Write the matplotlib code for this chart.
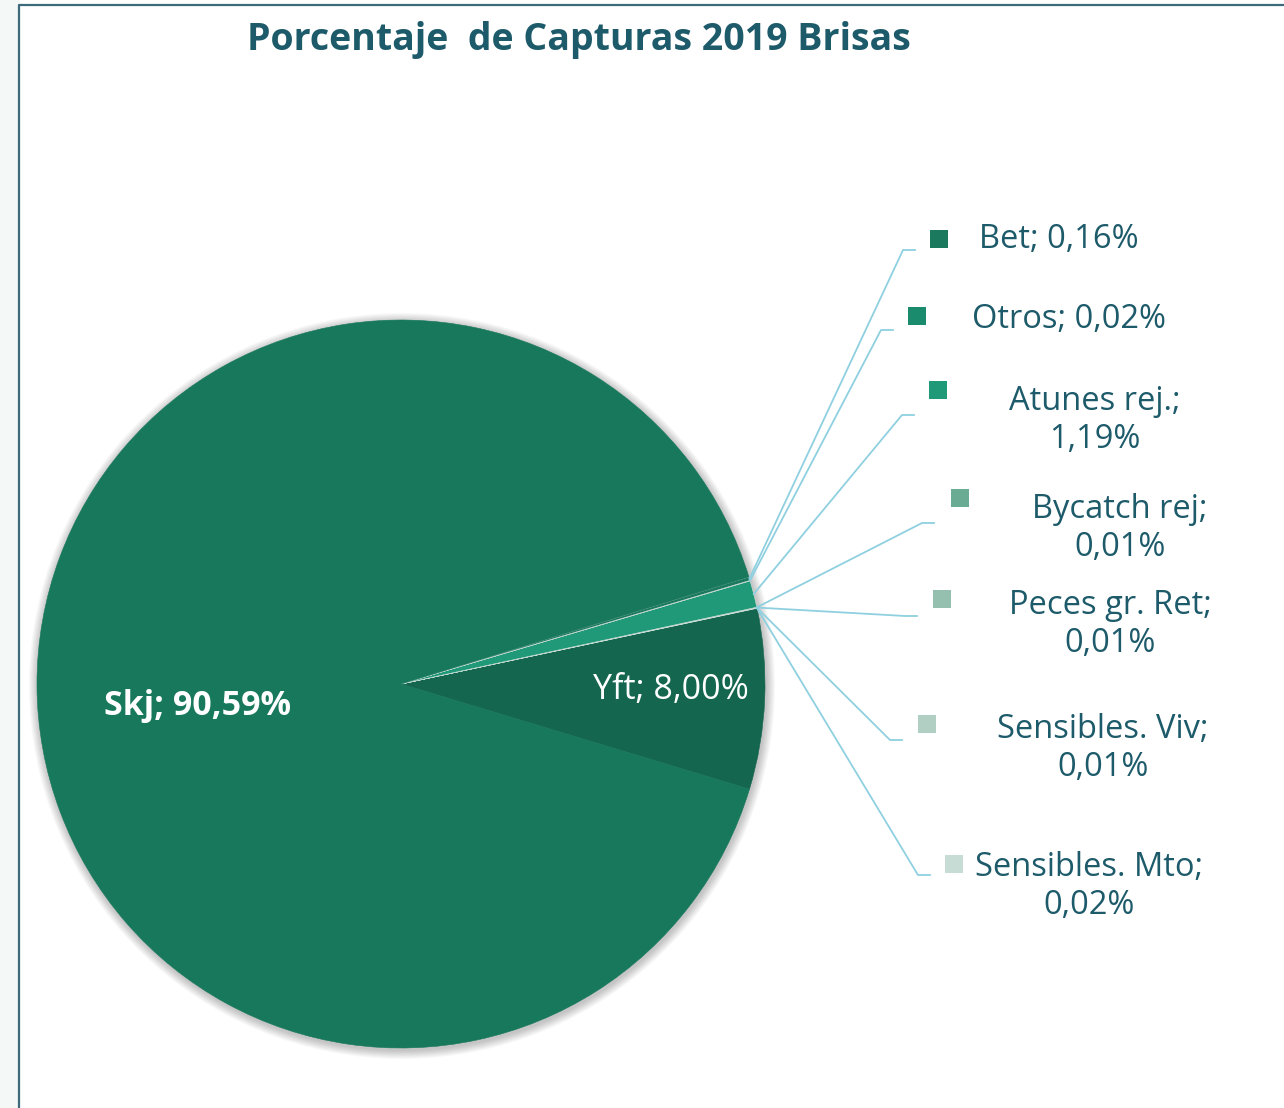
import numpy as np
import matplotlib
matplotlib.use('Agg')
from matplotlib import pyplot as plt
from matplotlib.patches import Circle, Rectangle

# Slice data (counterclockwise from the lower edge of Yft)
names = ['Yft', 'Sensibles. Mto', 'Sensibles. Viv', 'Peces gr. Ret',
         'Bycatch rej', 'Atunes rej.', 'Otros', 'Bet', 'Skj']
values = [8.00, 0.02, 0.01, 0.01, 0.01, 1.19, 0.02, 0.16, 90.59]
colors = ['#15664f', '#c7dcd4', '#b2cfc4', '#95bfaf', '#6aab94',
          '#1f9977', '#1a8b6c', '#1b7a5e', '#17785c']

W, H = 1284, 1108
TXT = '#1d5a6a'


def py(y):
    # pixel row (from top) -> data y
    return H - y


def pct(v):
    return ('%.2f' % v).replace('.', ',') + '%'


plt.rcParams['font.family'] = ['Open Sans', 'DejaVu Sans']

fig = plt.figure(figsize=(W / 100, H / 100), dpi=100)
ax = fig.add_axes([0, 0, 1, 1])

# frame of the slide / chart area
ax.add_patch(Rectangle((0, 0), 19, H, color='#f4f8f7', zorder=0))
ax.plot([19, 19, W], [0, py(5), py(5)], color='#3d6b7b', lw=1.6, zorder=1)

cx, cy, r = 401, py(684), 364

# soft shadow under the pie
for i in range(10):
    ax.add_patch(Circle((cx + 1, cy - 2), r + 1 + i * 0.9, color='black',
                        alpha=0.022, lw=0, zorder=1))

wedges, _ = ax.pie(values, colors=colors, startangle=-16.8, counterclock=True,
                   center=(cx, cy), radius=r, frame=True,
                   wedgeprops=dict(edgecolor='#cfded8', linewidth=0.4, zorder=2))
# big slices get no visible border
wedges[0].set_edgecolor(colors[0])
wedges[-1].set_edgecolor(colors[-1])

# labels inside the big slices
ax.text(198, py(706), 'Skj; ' + pct(values[8]), color='white', fontsize=24.5,
        fontweight='bold', ha='center', va='center', zorder=5)
ax.text(671, py(690), 'Yft; ' + pct(values[0]), color='white', fontsize=24.5,
        ha='center', va='center', zorder=5)

# outside labels: (text centre x, y), legend square (x, y), leader bend (x, y)
layout = {
    'Bet':            ((1059, 240), (939, 239), (903, 250)),
    'Otros':          ((1069, 319), (917, 316), (881, 330)),
    'Atunes rej.':    ((1095, 420), (938, 390), (902, 415)),
    'Bycatch rej':    ((1120, 528), (960, 498), (922, 523)),
    'Peces gr. Ret':  ((1110, 624), (942, 599), (905, 616)),
    'Sensibles. Viv': ((1103, 749), (927, 724), (890, 740)),
    'Sensibles. Mto': ((1089, 886), (954, 864), (918, 875)),
}

for name, val, col, w in zip(names, values, colors, wedges):
    if name not in layout:
        continue
    (tx, ty), (sx, sy), (bx, by) = layout[name]
    sep = ' ' if name in ('Bet', 'Otros') else '\n'
    ax.text(tx, py(ty), name + ';' + sep + pct(val), color=TXT, fontsize=23.5,
            ha='center', va='center', linespacing=1.2, zorder=5)
    ax.scatter([sx], [py(sy)], marker='s', s=170, color=col, lw=0, zorder=5)
    mid = np.radians((w.theta1 + w.theta2) / 2)
    ex, ey = cx + r * np.cos(mid), cy + r * np.sin(mid)
    ax.plot([ex, bx, bx + 12], [ey, py(by), py(by)], color='#8fd0e0',
            lw=1.3, zorder=4)

ax.text(579, py(40), 'Porcentaje  de Capturas 2019 Brisas', color=TXT,
        fontsize=27, fontweight='bold', ha='center', va='center')

ax.set_xlim(0, W)
ax.set_ylim(0, H)
ax.set_aspect('equal')
ax.axis('off')

plt.savefig('out.png', dpi=100)
